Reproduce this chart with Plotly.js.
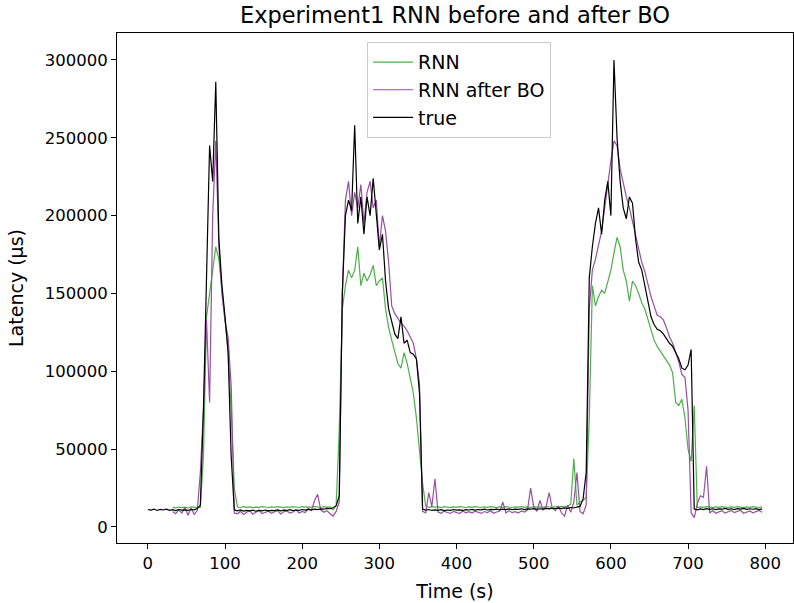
<!DOCTYPE html>
<html>
<head>
<meta charset="utf-8">
<script src="https://cdn.plot.ly/plotly-3.0.1.min.js"></script>
<style>html,body{margin:0;padding:0;background:#fff;}#chart{width:794px;height:603px;}</style>
</head>
<body>
<div id="chart"></div>
<script>
const timeS = [0,4,8,12,16,20,24,28,32,36,40,44,48,52,56,60,64,68,72,76,80,84,88,92,96,100,104,108,112,116,120,124,128,132,136,140,144,148,152,156,160,164,168,172,176,180,184,188,192,196,200,204,208,212,216,220,224,228,232,236,240,244,248,252,256,260,264,268,272,276,280,284,288,292,296,300,304,308,312,316,320,324,328,332,336,340,344,348,352,356,360,364,368,372,376,380,384,388,392,396,400,404,408,412,416,420,424,428,432,436,440,444,448,452,456,460,464,468,472,476,480,484,488,492,496,500,504,508,512,516,520,524,528,532,536,540,544,548,552,556,560,564,568,572,576,580,584,588,592,596,600,604,608,612,616,620,624,628,632,636,640,644,648,652,656,660,664,668,672,676,680,684,688,692,696,700,704,708,712,716,720,724,728,732,736,740,744,748,752,756,760,764,768,772,776,780,784,788,792,796];

const rnn = [null,null,null,null,null,null,null,null,
12600,12300,12800,12400,12700,12200,12900,12500,12400,
12500,45000,135000,150000,168000,180000,172000,152000,133000,113000,75000,25000,
12800,12500,13000,12600,12900,12400,12800,12600,13100,12700,12500,12900,12600,13000,12700,12400,12900,12600,13100,12800,12500,13000,12700,12900,12600,13200,12800,12500,13000,12700,12900,11000,14000,
62000,140000,155000,165000,160000,165000,180000,155000,163000,158000,162000,168000,155000,158000,160000,140000,128000,120000,112000,105000,102000,112000,105000,95000,86000,70000,50000,28000,
13500,12600,13000,12700,12900,12500,13000,12700,12400,12900,12600,13000,12800,12500,12900,12600,13100,12700,12500,12900,12600,13000,12700,12400,12900,12600,13000,12800,12500,12900,12700,13100,12600,12900,12500,13000,12700,12900,12600,13000,12800,12500,13000,12700,13200,12900,13500,14500,44000,14000,16000,17000,19000,
70000,155000,142000,148000,152000,150000,158000,165000,176000,186000,180000,165000,158000,145000,158000,155000,150000,144000,140000,133000,127000,120000,116000,113000,110000,107000,104000,99000,80000,78000,82000,70000,50000,42000,78000,
12500,12900,12600,13000,12700,12400,12900,12600,13100,12700,12500,12900,12600,13000,12800,12400,12900,12600,13000,12700,12500,12900];

const rnnAfterBO = [null,null,null,null,null,null,null,null,
10000,8500,11000,9000,12500,7500,12000,8000,10500,
35000,75000,133000,80000,200000,248000,180000,150000,132000,122000,90000,9000,
8500,10000,8000,9500,10500,8200,9800,10800,8600,9400,10200,8800,9900,10600,8400,9700,10300,8900,9600,11000,9000,10000,9200,12000,10500,17000,21000,11000,9500,10500,8500,7000,10000,
16000,150000,210000,222000,200000,215000,205000,220000,195000,215000,222000,205000,210000,180000,200000,190000,170000,142000,137000,134000,131000,129000,126000,122000,118000,108000,92000,10000,
9000,22000,13000,31000,9500,8800,10200,9300,8700,10000,9200,8600,10300,9100,9800,8900,10100,9400,8700,9900,9300,10400,8800,9600,10200,16000,9000,10500,9200,9800,8900,10300,9600,11000,25000,13000,10000,17000,11000,13000,22000,12000,10500,13500,9000,7000,14000,9500,16000,35000,10000,8500,14000,
140000,165000,172000,180000,190000,205000,222000,235000,248000,245000,230000,220000,212000,205000,196000,188000,178000,170000,164000,155000,148000,142000,136000,135000,133000,128000,122000,118000,112000,106000,98000,96000,75000,9000,6000,
15000,20000,19000,39000,9000,10500,8800,9700,10400,8900,9800,10600,9200,9900,10700,8800,9600,10300,9100,9900,10600,9400];

const trueLatency = [11200,10800,11500,10600,11300,10900,11400,10700,11100,10500,11200,10800,11000,10600,11300,11000,11800,
14000,75000,155000,245000,222000,286000,185000,155000,135000,112000,45000,11000,
10400,10900,10200,10700,10300,10800,10100,10600,10400,10900,10300,10700,10500,11000,10400,10800,10600,11100,10500,10900,10700,11200,10800,11300,11000,11500,11100,11600,11400,11900,11700,12300,13500,
20000,150000,200000,210000,203000,258000,195000,212000,188000,212000,200000,224000,198000,178000,188000,158000,140000,132000,124000,121000,135000,118000,120000,112000,111000,108000,86000,11500,
10800,11200,10600,11000,10700,11100,10500,10900,10700,11200,10800,11000,10600,11100,10900,11300,10800,11200,11000,11400,10900,11300,11100,11500,11000,11400,11200,11600,11100,11500,11300,11700,11200,11600,11400,11800,11300,11700,11500,11900,11600,12000,11700,12100,11800,12300,12000,12500,12200,12800,13200,18000,35000,
160000,180000,195000,205000,188000,210000,222000,200000,300000,250000,222000,205000,198000,212000,208000,185000,170000,165000,155000,145000,135000,130000,127000,126000,124000,121000,118000,116000,112000,108000,102000,101000,104000,114000,11500,
11000,11600,11200,11800,11300,11700,11100,11600,11400,11900,11300,11700,11200,11800,11500,11900,11300,11700,11400,11800,11200,11600];

const seriesNames = ['RNN', 'RNN after BO', 'true'];
const xTicks = [0,100,200,300,400,500,600,700,800];
const yTicks = [0,50000,100000,150000,200000,250000,300000];

const FONT = 'DejaVu Sans, sans-serif';
const traces = [
  {x: timeS, y: rnn, name: seriesNames[0], type: 'scatter', mode: 'lines', line: {color: '#4daf4a', width: 1.2}},
  {x: timeS, y: rnnAfterBO, name: seriesNames[1], type: 'scatter', mode: 'lines', line: {color: '#984ea3', width: 1.2}},
  {x: timeS, y: trueLatency, name: seriesNames[2], type: 'scatter', mode: 'lines', line: {color: '#000000', width: 1.2}}
];

const axisCommon = {
  showline: true, mirror: true, linecolor: '#000', linewidth: 1,
  ticks: 'outside', ticklen: 5, tickwidth: 1, tickcolor: '#000',
  showgrid: false, zeroline: false,
  tickfont: {family: FONT, size: 16.5, color: '#000'}
};

const layout = {
  width: 794, height: 603,
  margin: {l: 117, r: 1, t: 33, b: 60},
  paper_bgcolor: '#fff', plot_bgcolor: '#fff',
  font: {family: FONT, color: '#000'},
  title: {text: 'Experiment1 RNN before and after BO', font: {family: FONT, size: 22.5, color: '#000'},
          x: 0.5, xref: 'paper', xanchor: 'center', y: 0.975, yref: 'container', yanchor: 'middle'},
  xaxis: Object.assign({}, axisCommon, {
    range: [-40, 836], tickmode: 'array', tickvals: xTicks, ticktext: xTicks.map(String),
    title: {text: 'Time (s)', font: {family: FONT, size: 19, color: '#000'}, standoff: 12}
  }),
  yaxis: Object.assign({}, axisCommon, {
    range: [-10300, 317300], tickmode: 'array', tickvals: yTicks, ticktext: yTicks.map(String),
    title: {text: 'Latency (µs)', font: {family: FONT, size: 19, color: '#000'}, standoff: 16}
  }),
  showlegend: true,
  legend: {x: 0.506, xanchor: 'center', y: 0.982, yanchor: 'top', itemwidth: 40,
           bgcolor: 'rgba(255,255,255,0.8)', bordercolor: '#cccccc', borderwidth: 1,
           font: {family: FONT, size: 19, color: '#000'}}
};

Plotly.newPlot('chart', traces, layout, {staticPlot: true, displayModeBar: false});
</script>
</body>
</html>
